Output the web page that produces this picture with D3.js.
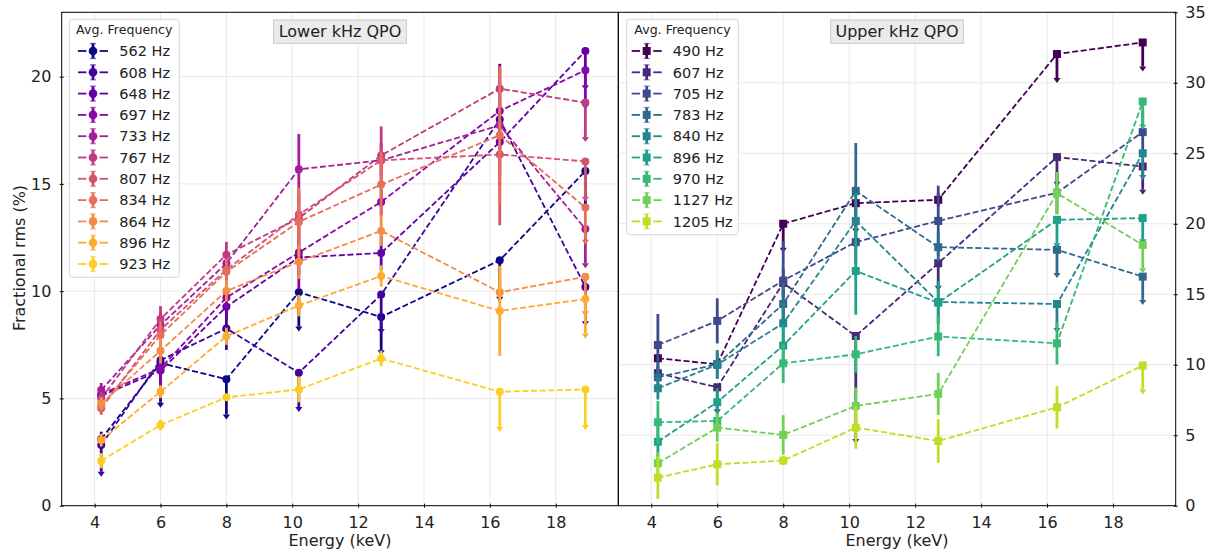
<!DOCTYPE html>
<html>
<head>
<meta charset="utf-8">
<script src="https://cdn.jsdelivr.net/npm/d3@7"></script>
<style>
  body { margin: 0; background: #fff; }
  text { font-family: "DejaVu Sans", sans-serif; fill: #222; }
</style>
</head>
<body>
<script>
// energies of the bands (keV)
const energy = [4.2, 6.0, 8.0, 10.2, 12.7, 16.3, 18.9];
const xTicks = [4, 6, 8, 10, 12, 14, 16, 18];

// lower kHz QPO
const lowerLabels = ["562 Hz", "608 Hz", "648 Hz", "697 Hz", "733 Hz", "767 Hz", "807 Hz", "834 Hz", "864 Hz", "896 Hz", "923 Hz"];
const lowerRms = [
  [3.1, 6.65, 5.9, 9.95, 8.8, 11.44, 15.6],
  [2.83, 6.78, 8.26, 6.2, 9.84, 18.0, 10.2],
  [5.12, 6.3, 9.27, 11.57, 11.78, 16.95, 21.2],
  [5.2, 6.4, 9.7, 11.8, 14.16, 18.4, 20.3],
  [5.39, 8.42, 11.3, 15.68, 16.1, 17.73, 12.9],
  [5.0, 8.7, 11.7, 13.4, 16.33, 19.44, 18.79],
  [4.54, 8.2, 11.0, 13.57, 16.1, 16.37, 16.05],
  [4.65, 7.95, 10.9, 13.23, 14.97, 17.27, 13.9],
  [4.77, 7.22, 10.01, 11.37, 12.81, 9.95, 10.67],
  [3.06, 5.31, 7.9, 9.33, 10.71, 9.08, 9.63],
  [2.1, 3.76, 5.05, 5.42, 6.86, 5.31, 5.42]
];
const lowerErr = [
  [0.35, 1.85, 1.65, 1.6, 1.55, 1.7, 1.6],
  [1.25, 0.3, 1.0, 1.6, 1.6, 2.6, 1.6],
  [0.3, 0.4, 0.6, 0.8, 0.8, 0.6, 1.6],
  [0.3, 0.85, 0.5, 1.7, 0.6, 0.6, 1.6],
  [0.33, 0.6, 0.5, 1.65, 0.8, 2.8, 1.6],
  [0.3, 0.6, 0.6, 1.0, 1.35, 1.0, 1.6],
  [0.3, 0.5, 0.5, 1.1, 0.6, 3.3, 1.65],
  [0.3, 0.6, 0.6, 1.6, 1.5, 3.2, 1.5],
  [0.3, 0.6, 0.5, 0.8, 0.7, 0.5, 1.6],
  [0.3, 0.3, 0.4, 0.5, 0.5, 2.1, 1.6],
  [0.35, 0.25, 0.15, 0.6, 0.35, 1.63, 1.66]
];
// 1 = upper limit (arrow down)
const lowerLimit = [
  [0, 1, 1, 1, 1, 1, 1],
  [1, 0, 0, 1, 1, 0, 1],
  [0, 0, 0, 0, 0, 1, 1],
  [0, 0, 0, 0, 0, 0, 1],
  [0, 0, 0, 0, 0, 0, 1],
  [0, 0, 0, 0, 0, 0, 1],
  [0, 0, 0, 0, 0, 0, 1],
  [0, 0, 0, 0, 0, 0, 1],
  [0, 0, 0, 0, 0, 0, 1],
  [0, 0, 0, 0, 0, 0, 1],
  [0, 0, 0, 0, 0, 1, 1]
];
const lowerYTicks = [0, 5, 10, 15, 20];

// upper kHz QPO
const upperLabels = ["490 Hz", "607 Hz", "705 Hz", "783 Hz", "840 Hz", "896 Hz", "970 Hz", "1127 Hz", "1205 Hz"];
const upperRms = [
  [10.46, 10.03, 20.0, 21.46, 21.7, 32.04, 32.86],
  [9.4, 8.4, 15.8, 12.04, 17.2, 24.73, 24.06],
  [11.4, 13.11, 15.97, 18.7, 20.2, 22.2, 26.5],
  [9.11, 10.03, 14.31, 22.33, 18.34, 18.15, 16.25],
  [8.33, 10.0, 12.94, 20.2, 14.45, 14.31, 25.0],
  [4.54, 7.34, 11.36, 16.65, 14.4, 20.28, 20.4],
  [5.92, 6.01, 10.1, 10.74, 12.0, 11.52, 28.67],
  [3.01, 5.54, 5.02, 7.08, 7.93, 22.17, 18.5],
  [1.99, 2.94, 3.2, 5.54, 4.59, 6.98, 9.94]
];
const upperErr = [
  [0.3, 0.3, 1.7, 1.8, 0.5, 1.7, 1.7],
  [0.5, 1.55, 1.0, 7.3, 1.6, 1.75, 1.65],
  [2.2, 1.6, 2.8, 1.5, 2.5, 1.5, 1.5],
  [1.0, 1.0, 1.5, 3.4, 1.0, 1.65, 1.65],
  [0.8, 1.0, 1.5, 2.0, 1.5, 1.7, 1.55],
  [1.5, 1.0, 1.5, 3.1, 1.5, 1.66, 1.5],
  [1.5, 0.5, 1.4, 1.3, 1.4, 1.5, 1.65],
  [0.8, 1.0, 1.4, 1.3, 1.5, 1.5, 1.65],
  [1.5, 1.5, 0.3, 1.5, 1.55, 1.5, 1.7]
];
const upperLimit = [
  [0, 0, 1, 1, 0, 1, 1],
  [0, 1, 0, 1, 1, 1, 1],
  [0, 0, 0, 0, 0, 0, 0],
  [0, 0, 0, 0, 0, 1, 1],
  [0, 0, 0, 0, 0, 1, 1],
  [0, 0, 0, 0, 0, 1, 1],
  [0, 0, 0, 0, 0, 0, 1],
  [0, 0, 0, 0, 0, 0, 1],
  [0, 0, 0, 0, 0, 0, 1]
];
const upperYTicks = [0, 5, 10, 15, 20, 25, 30, 35];

const W = 1213, H = 553;
const plotTop = 12.3, plotBottom = 505.7;

const svg = d3.select("body").append("svg")
  .attr("width", W).attr("height", H)
  .attr("viewBox", `0 0 ${W} ${H}`);

function drawPanel(cfg) {
  const x = d3.scaleLinear().domain([3, 19.9]).range([cfg.x0, cfg.x1]);
  const y = d3.scaleLinear().domain(cfg.yDomain).range([plotBottom, plotTop]);
  const g = svg.append("g");
  const n = cfg.labels.length;
  const colors = cfg.labels.map((d, i) => cfg.cmap(0.9 * i / (n - 1)));

  // grid
  g.append("g").selectAll("line").data(xTicks).join("line")
    .attr("x1", d => x(d)).attr("x2", d => x(d))
    .attr("y1", plotTop).attr("y2", plotBottom)
    .attr("stroke", "#e8e8e8").attr("stroke-width", 1);
  g.append("g").selectAll("line").data(cfg.yTicks.filter(d => d > 0 && d < cfg.yDomain[1])).join("line")
    .attr("x1", cfg.x0).attr("x2", cfg.x1)
    .attr("y1", d => y(d)).attr("y2", d => y(d))
    .attr("stroke", "#e8e8e8").attr("stroke-width", 1);

  const line = d3.line().x(d => x(d[0])).y(d => y(d[1]));

  cfg.labels.forEach((lab, s) => {
    const col = colors[s];
    const pts = energy.map((e, i) => ({
      e: e, v: cfg.rms[s][i], err: cfg.err[s][i], lim: cfg.limit[s][i]
    }));
    const sg = g.append("g");
    // error bars
    sg.selectAll("line.eb").data(pts).join("line").attr("class", "eb")
      .attr("x1", d => x(d.e)).attr("x2", d => x(d.e))
      .attr("y1", d => d.lim ? y(d.v) : y(d.v + d.err))
      .attr("y2", d => y(d.v - d.err))
      .attr("stroke", col).attr("stroke-width", 2.8);
    // carets for upper limits
    sg.selectAll("path.car").data(pts.filter(d => d.lim)).join("path").attr("class", "car")
      .attr("transform", d => `translate(${x(d.e)},${y(d.v - d.err)})`)
      .attr("d", "M-3.6,0L3.6,0L0,5Z")
      .attr("fill", col);
    // dashed line
    sg.append("path")
      .attr("d", line(pts.map(d => [d.e, d.v])))
      .attr("fill", "none").attr("stroke", col)
      .attr("stroke-width", 1.8).attr("stroke-dasharray", "6,2.6");
    // markers
    if (cfg.square) {
      sg.selectAll("rect.mk").data(pts).join("rect").attr("class", "mk")
        .attr("x", d => x(d.e) - 4).attr("y", d => y(d.v) - 4)
        .attr("width", 8).attr("height", 8).attr("fill", col);
    } else {
      sg.selectAll("circle.mk").data(pts).join("circle").attr("class", "mk")
        .attr("cx", d => x(d.e)).attr("cy", d => y(d.v))
        .attr("r", 4).attr("fill", col);
    }
  });

  // frame
  g.append("rect")
    .attr("x", cfg.x0).attr("y", plotTop)
    .attr("width", cfg.x1 - cfg.x0).attr("height", plotBottom - plotTop)
    .attr("fill", "none").attr("stroke", "#000").attr("stroke-width", 1);

  // x axis
  const xa = g.append("g").attr("transform", `translate(0,${plotBottom})`)
    .call(d3.axisBottom(x).tickValues(xTicks).tickSizeInner(2).tickSizeOuter(0).tickPadding(9));
  xa.select(".domain").remove();
  xa.selectAll(".tick line").attr("y1", -2).attr("stroke", "#000");
  xa.selectAll(".tick text").attr("font-size", 16).attr("font-family", "DejaVu Sans").attr("fill", "#222");

  // y axis
  const yAxis = cfg.rightAxis ? d3.axisRight(y) : d3.axisLeft(y);
  const ya = g.append("g").attr("transform", `translate(${cfg.rightAxis ? cfg.x1 : cfg.x0},0)`)
    .call(yAxis.tickValues(cfg.yTicks).tickSizeInner(2).tickSizeOuter(0).tickPadding(cfg.rightAxis ? 7.5 : 8.3));
  ya.select(".domain").remove();
  ya.selectAll(".tick line").attr("x1", cfg.rightAxis ? -2 : 2).attr("stroke", "#000");
  ya.selectAll(".tick text").attr("font-size", 16).attr("font-family", "DejaVu Sans").attr("fill", "#222");

  // x label
  g.append("text")
    .attr("x", (cfg.x0 + cfg.x1) / 2).attr("y", 546)
    .attr("text-anchor", "middle").attr("font-size", 16)
    .text("Energy (keV)");

  // title box
  const cx = (cfg.x0 + cfg.x1) / 2;
  g.append("rect")
    .attr("x", cx - 66.4).attr("y", 20)
    .attr("width", 132.8).attr("height", 23.3)
    .attr("fill", "#ebebeb").attr("stroke", "#c8c8c8").attr("stroke-width", 1);
  g.append("text")
    .attr("x", cx).attr("y", 37)
    .attr("text-anchor", "middle").attr("font-size", 16)
    .text(cfg.title);

  // legend
  const L = cfg.legend;
  const lg = g.append("g");
  lg.append("rect")
    .attr("x", L.x).attr("y", 19.3).attr("width", L.w).attr("height", 31.7 + n * 21.3 - 8)
    .attr("rx", 3).attr("fill", "#fff").attr("fill-opacity", 0.85)
    .attr("stroke", "#d6d6d6").attr("stroke-width", 1);
  lg.append("text")
    .attr("x", L.x + L.w / 2).attr("y", 34.2)
    .attr("text-anchor", "middle").attr("font-size", 12.6)
    .text("Avg. Frequency");
  cfg.labels.forEach((lab, i) => {
    const cy = 51 + i * 21.3;
    const col = colors[i];
    const mx = L.hx + 15;
    lg.append("line").attr("x1", L.hx).attr("x2", L.hx + 8.4).attr("y1", cy).attr("y2", cy)
      .attr("stroke", col).attr("stroke-width", 1.8);
    lg.append("line").attr("x1", L.hx + 21.6).attr("x2", L.hx + 30).attr("y1", cy).attr("y2", cy)
      .attr("stroke", col).attr("stroke-width", 1.8);
    lg.append("line").attr("x1", mx).attr("x2", mx).attr("y1", cy - 7.5).attr("y2", cy + 7.5)
      .attr("stroke", col).attr("stroke-width", 2.8);
    [cy - 7.5, cy + 7.5].forEach(yy => {
      lg.append("line").attr("x1", mx - 3).attr("x2", mx + 3).attr("y1", yy).attr("y2", yy)
        .attr("stroke", col).attr("stroke-width", 1.2).attr("stroke-opacity", 0.6);
    });
    if (cfg.square) {
      lg.append("rect").attr("x", mx - 4).attr("y", cy - 4).attr("width", 8).attr("height", 8).attr("fill", col);
    } else {
      lg.append("circle").attr("cx", mx).attr("cy", cy).attr("r", 4.3).attr("fill", col);
    }
    lg.append("text").attr("x", L.tx).attr("y", cy + 5.2)
      .attr("font-size", 14.5).text(lab);
  });
}

drawPanel({
  x0: 61.7, x1: 618.3, yDomain: [0, 23], yTicks: lowerYTicks,
  labels: lowerLabels, rms: lowerRms, err: lowerErr, limit: lowerLimit,
  cmap: d3.interpolatePlasma, square: false, rightAxis: false,
  title: "Lower kHz QPO",
  legend: { x: 69.3, w: 110, hx: 78, tx: 119.3 }
});

drawPanel({
  x0: 618.3, x1: 1175.7, yDomain: [0, 35], yTicks: upperYTicks,
  labels: upperLabels, rms: upperRms, err: upperErr, limit: upperLimit,
  cmap: d3.interpolateViridis, square: true, rightAxis: true,
  title: "Upper kHz QPO",
  legend: { x: 626.7, w: 111.6, hx: 631.7, tx: 672.7 }
});

// y label
svg.append("text")
  .attr("transform", `translate(24.5,258) rotate(-90)`)
  .attr("text-anchor", "middle").attr("font-size", 16)
  .text("Fractional rms (%)");
</script>
</body>
</html>
